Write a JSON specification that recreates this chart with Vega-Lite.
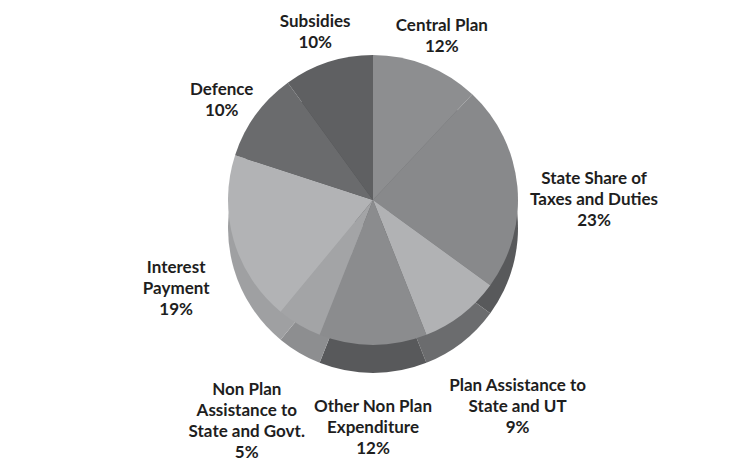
{
  "$schema": "https://vega.github.io/schema/vega-lite/v6.json",
  "width": 746,
  "height": 462,
  "padding": 0,
  "autosize": {"type": "fit", "contains": "padding"},
  "background": "white",
  "config": {"view": {"stroke": null}},
  "data": {
    "values": [
      {"ord": 1, "category": "Central Plan", "label": "Central Plan", "value": 12},
      {"ord": 2, "category": "State Share of Taxes and Duties", "label": "State Share of\nTaxes and Duties", "value": 23},
      {"ord": 3, "category": "Plan Assistance to State and UT", "label": "Plan Assistance to\nState and UT", "value": 9},
      {"ord": 4, "category": "Other Non Plan Expenditure", "label": "Other Non Plan\nExpenditure", "value": 12},
      {"ord": 5, "category": "Non Plan Assistance to State and Govt.", "label": "Non Plan\nAssistance to\nState and Govt.", "value": 5},
      {"ord": 6, "category": "Interest Payment", "label": "Interest\nPayment", "value": 19},
      {"ord": 7, "category": "Defence", "label": "Defence", "value": 10},
      {"ord": 8, "category": "Subsidies", "label": "Subsidies", "value": 10}
    ]
  },
  "transform": [
    {"stack": "value", "sort": [{"field": "ord"}], "groupby": [], "as": ["s0", "s1"]},
    {"calculate": "(datum.s0 + datum.s1) / 2", "as": "mid"},
    {"calculate": "datum.label + '\\n' + datum.value + '%'", "as": "txt"}
  ],
  "layer": [
    {
      "mark": {"type": "arc", "outerRadius": 145, "yOffset": -3, "strokeWidth": 0},
      "encoding": {
        "theta": {"field": "s0", "type": "quantitative", "scale": {"domain": [0, 100], "range": [0, 6.2832]}},
        "theta2": {"field": "s1"},
        "color": {
          "field": "category", "type": "nominal", "legend": null,
          "scale": {
            "domain": ["Central Plan", "State Share of Taxes and Duties", "Plan Assistance to State and UT", "Other Non Plan Expenditure", "Non Plan Assistance to State and Govt.", "Interest Payment", "Defence", "Subsidies"],
            "range": ["#6e6f71", "#58595b", "#6b6c6e", "#58595b", "#8d8e90", "#9fa0a2", "#555658", "#4d4e50"]
          }
        }
      }
    },
    {
      "mark": {"type": "arc", "outerRadius": 145, "yOffset": -31, "strokeWidth": 0},
      "encoding": {
        "theta": {"field": "s0", "type": "quantitative", "scale": {"domain": [0, 100], "range": [0, 6.2832]}},
        "theta2": {"field": "s1"},
        "fill": {
          "field": "category", "type": "nominal", "legend": null,
          "scale": {
            "domain": ["Central Plan", "State Share of Taxes and Duties", "Plan Assistance to State and UT", "Other Non Plan Expenditure", "Non Plan Assistance to State and Govt.", "Interest Payment", "Defence", "Subsidies"],
            "range": ["#8d8e90", "#88898b", "#b1b2b4", "#8b8c8e", "#a3a4a6", "#b2b3b5", "#6a6b6d", "#5f6062"]
          }
        }
      }
    },
    {
      "transform": [{"filter": {"field": "category", "oneOf": ["Central Plan", "Subsidies", "Defence"]}}],
      "mark": {"type": "text", "radius": 187, "yOffset": -31, "font": "Lato", "fontWeight": "bold", "fontSize": 17, "lineBreak": "\n", "lineHeight": 21, "color": "#1e1e1e", "baseline": "middle", "align": "center"},
      "encoding": {
        "theta": {"field": "mid", "type": "quantitative", "scale": {"domain": [0, 100], "range": [0, 6.2832]}},
        "text": {"field": "txt"}
      }
    },
    {
      "transform": [{"filter": {"field": "category", "oneOf": ["State Share of Taxes and Duties"]}}],
      "mark": {"type": "text", "radius": 222, "yOffset": -31, "font": "Lato", "fontWeight": "bold", "fontSize": 17, "lineBreak": "\n", "lineHeight": 21, "color": "#1e1e1e", "baseline": "middle", "align": "center"},
      "encoding": {
        "theta": {"field": "mid", "type": "quantitative", "scale": {"domain": [0, 100], "range": [0, 6.2832]}},
        "text": {"field": "txt"}
      }
    },
    {
      "transform": [{"filter": {"field": "category", "oneOf": ["Interest Payment"]}}],
      "mark": {"type": "text", "radius": 205, "yOffset": -20, "font": "Lato", "fontWeight": "bold", "fontSize": 17, "lineBreak": "\n", "lineHeight": 21, "color": "#1e1e1e", "baseline": "middle", "align": "center"},
      "encoding": {
        "theta": {"field": "mid", "type": "quantitative", "scale": {"domain": [0, 100], "range": [0, 6.2832]}},
        "text": {"field": "txt"}
      }
    },
    {
      "transform": [{"filter": {"field": "category", "oneOf": ["Plan Assistance to State and UT"]}}],
      "mark": {"type": "text", "radius": 236, "yOffset": -31, "font": "Lato", "fontWeight": "bold", "fontSize": 17, "lineBreak": "\n", "lineHeight": 21, "color": "#1e1e1e", "baseline": "middle", "align": "center"},
      "encoding": {
        "theta": {"field": "mid", "type": "quantitative", "scale": {"domain": [0, 100], "range": [0, 6.2832]}},
        "text": {"field": "txt"}
      }
    },
    {
      "transform": [{"filter": {"field": "category", "oneOf": ["Non Plan Assistance to State and Govt."]}}],
      "mark": {"type": "text", "radius": 248, "yOffset": -54, "font": "Lato", "fontWeight": "bold", "fontSize": 17, "lineBreak": "\n", "lineHeight": 21, "color": "#1e1e1e", "baseline": "middle", "align": "center"},
      "encoding": {
        "theta": {"field": "mid", "type": "quantitative", "scale": {"domain": [0, 100], "range": [0, 6.2832]}},
        "text": {"field": "txt"}
      }
    },
    {
      "transform": [{"filter": {"field": "category", "oneOf": ["Other Non Plan Expenditure"]}}],
      "mark": {"type": "text", "radius": 207, "yOffset": -31, "font": "Lato", "fontWeight": "bold", "fontSize": 17, "lineBreak": "\n", "lineHeight": 21, "color": "#1e1e1e", "baseline": "middle", "align": "center"},
      "encoding": {
        "theta": {"field": "mid", "type": "quantitative", "scale": {"domain": [0, 100], "range": [0, 6.2832]}},
        "text": {"field": "txt"}
      }
    }
  ]
}
